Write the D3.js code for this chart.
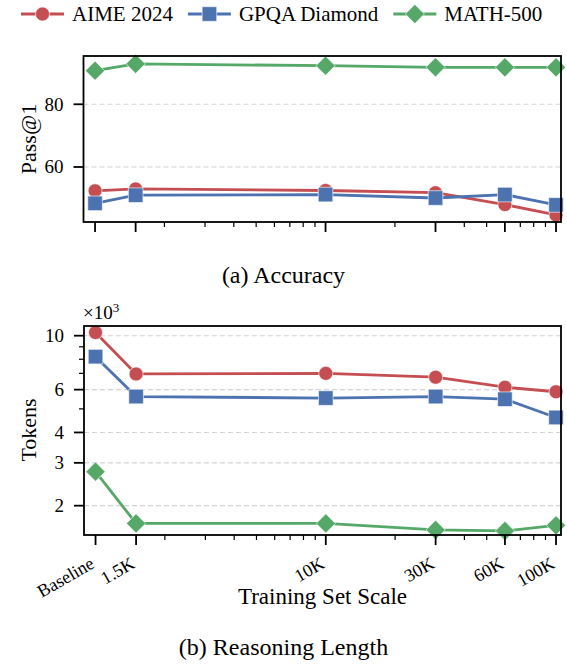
<!DOCTYPE html>
<html>
<head>
<meta charset="utf-8">
<script src="https://cdn.jsdelivr.net/npm/d3@7"></script>
<style>
  body { margin: 0; background: #fff; }
  svg { display: block; font-family: "Liberation Serif", "Times New Roman", serif; }
</style>
</head>
<body>
<svg id="chart" width="567" height="664"></svg>
<script>
// training-set sizes on a log axis; baseline sits at 1K
const categories = ["Baseline", "1.5K", "10K", "30K", "60K", "100K"];
const trainSizes = [1000, 1500, 10000, 30000, 60000, 100000];
const xMinor = [2000, 3000, 4000, 5000, 6000, 7000, 8000, 9000, 20000, 40000, 50000, 70000, 80000, 90000];

const seriesNames = ["AIME 2024", "GPQA Diamond", "MATH-500"];

// (a) pass@1
const accAIME = [52.4, 53.0, 52.5, 51.8, 48.0, 44.7];
const accGPQA = [48.4, 51.0, 51.2, 50.1, 51.2, 47.9];
const accMATH = [90.7, 92.9, 92.3, 91.8, 91.8, 91.8];
const accTicks = [60, 80];

// (b) tokens, x10^3
const tokAIME = [10.3, 6.96, 7.0, 6.75, 6.14, 5.88];
const tokGPQA = [8.2, 5.62, 5.54, 5.62, 5.48, 4.61];
const tokMATH = [2.76, 1.69, 1.69, 1.59, 1.575, 1.66];
const tokTicks = [2, 3, 4, 6, 10];
const tokMinor = [5, 7, 8, 9];

const colors = ["#C44E52", "#4C72B0", "#55A868"];
const shapes = ["circle", "square", "diamond"];

const svg = d3.select("#chart");
const W = 567;

function markerPath(shape) {
  if (shape == "circle") return d3.symbol(d3.symbolCircle, Math.PI * 7 * 7)();
  if (shape == "square") { let s = 7.3; return `M${-s},${-s}H${s}V${s}H${-s}Z`; }
  let d = 9.6;
  return `M0,${-d}L${d},0L0,${d}L${-d},0Z`;
}

let x = d3.scaleLog().domain([891, 105100]);

function panel(opts) {
  const {top, bottom, left, right, y, ticks, minor, series, showX} = opts;
  x.range([left, right]);
  const g = svg.append("g");

  // grid
  g.selectAll(".grid").data(ticks).join("line")
    .attr("x1", left).attr("x2", right)
    .attr("y1", d => y(d)).attr("y2", d => y(d))
    .attr("stroke", "#d4d4d4").attr("stroke-width", 1.1)
    .attr("stroke-dasharray", "5,3");

  // lines + markers
  series.forEach((vals, i) => {
    const line = d3.line().x((d, j) => x(trainSizes[j])).y(d => y(d));
    g.append("path").datum(vals)
      .attr("d", line)
      .attr("fill", "none")
      .attr("stroke", colors[i])
      .attr("stroke-width", 2.8)
      .attr("stroke-linejoin", "round");
    g.selectAll(".m" + i).data(vals).join("path")
      .attr("d", markerPath(shapes[i]))
      .attr("transform", (d, j) => `translate(${x(trainSizes[j])},${y(d)})`)
      .attr("fill", colors[i])
      .attr("stroke", "#fff").attr("stroke-width", 0.6);
  });

  // frame
  g.append("rect")
    .attr("x", left).attr("y", top)
    .attr("width", right - left).attr("height", bottom - top)
    .attr("fill", "none").attr("stroke", "#000").attr("stroke-width", 1.8);

  // y ticks
  g.selectAll(".yt").data(ticks).join("line")
    .attr("x1", left - 10).attr("x2", left)
    .attr("y1", d => y(d)).attr("y2", d => y(d))
    .attr("stroke", "#000").attr("stroke-width", 1.8);
  g.selectAll(".ym").data(minor).join("line")
    .attr("x1", left - 5).attr("x2", left)
    .attr("y1", d => y(d)).attr("y2", d => y(d))
    .attr("stroke", "#000").attr("stroke-width", 1.2);
  g.selectAll(".yl").data(ticks).join("text")
    .attr("x", left - 20).attr("y", d => y(d))
    .attr("dy", "0.34em")
    .attr("text-anchor", "end")
    .attr("font-size", 19)
    .text(d => d);

  // x ticks
  g.selectAll(".xt").data(trainSizes).join("line")
    .attr("x1", d => x(d)).attr("x2", d => x(d))
    .attr("y1", bottom).attr("y2", bottom + 10)
    .attr("stroke", "#000").attr("stroke-width", 1.8);
  g.selectAll(".xm").data(xMinor).join("line")
    .attr("x1", d => x(d)).attr("x2", d => x(d))
    .attr("y1", bottom).attr("y2", bottom + 5)
    .attr("stroke", "#000").attr("stroke-width", 1.2);

  if (showX) {
    g.selectAll(".xl").data(trainSizes).join("text")
      .attr("transform", d => `translate(${x(d)},${bottom + 32}) rotate(-30)`)
      .attr("text-anchor", "end")
      .attr("font-size", 18)
      .text((d, j) => categories[j]);
  }
  return g;
}

// (a) Accuracy
const yAcc = d3.scaleLinear().domain([42.45, 95.4]).range([222, 56]);
panel({top: 56, bottom: 222, left: 83.5, right: 561, y: yAcc, ticks: accTicks, minor: [],
  series: [accAIME, accGPQA, accMATH], showX: false});

svg.append("text")
  .attr("transform", `translate(36,139) rotate(-90)`)
  .attr("text-anchor", "middle")
  .attr("font-size", 22)
  .text("Pass@1");

svg.append("text")
  .attr("x", W / 2).attr("y", 283)
  .attr("text-anchor", "middle")
  .attr("font-size", 24)
  .text("(a) Accuracy");

// (b) Reasoning length
const yTok = d3.scaleLog().domain([1.515, 10.96]).range([535, 326]);
panel({top: 326, bottom: 535, left: 84, right: 561, y: yTok, ticks: tokTicks, minor: tokMinor,
  series: [tokAIME, tokGPQA, tokMATH], showX: true});

svg.append("text")
  .attr("x", 83).attr("y", 319)
  .attr("font-size", 19)
  .html("×10<tspan dy='-7' font-size='13'>3</tspan>");

svg.append("text")
  .attr("transform", `translate(36,430) rotate(-90)`)
  .attr("text-anchor", "middle")
  .attr("font-size", 22)
  .text("Tokens");

svg.append("text")
  .attr("x", 322.5).attr("y", 604)
  .attr("text-anchor", "middle")
  .attr("font-size", 23)
  .text("Training Set Scale");

svg.append("text")
  .attr("x", W / 2).attr("y", 655)
  .attr("text-anchor", "middle")
  .attr("font-size", 24)
  .text("(b) Reasoning Length");

// legend
let lx = 21;
seriesNames.forEach((name, i) => {
  const lg = svg.append("g");
  lg.append("line")
    .attr("x1", lx).attr("x2", lx + 43)
    .attr("y1", 14).attr("y2", 14)
    .attr("stroke", colors[i]).attr("stroke-width", 2.8);
  lg.append("path")
    .attr("d", markerPath(shapes[i]))
    .attr("transform", `translate(${lx + 21.5},14)`)
    .attr("fill", colors[i])
    .attr("stroke", "#fff").attr("stroke-width", 0.6);
  const t = lg.append("text")
    .attr("x", lx + 51).attr("y", 14)
    .attr("dy", "0.35em")
    .attr("font-size", 21)
    .text(name);
  lx += 51 + t.node().getComputedTextLength() + 15;
});
</script>
</body>
</html>
